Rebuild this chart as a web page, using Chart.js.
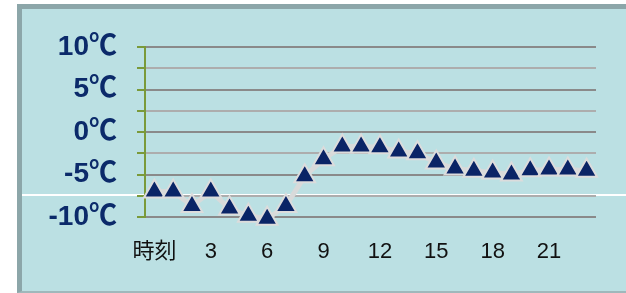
<!DOCTYPE html>
<html>
<head>
<meta charset="utf-8">
<script src="https://cdn.jsdelivr.net/npm/chart.js@4.4.1/dist/chart.umd.min.js"></script>
<style>
  @font-face {
    font-family: 'DegSign';
    src: local('Noto Sans CJK JP Bold'), local('NotoSansCJKjp-Bold'),
         local('Noto Sans CJK SC Bold'), local('NotoSansCJKsc-Bold'),
         local('Noto Sans CJK JP Regular'), local('NotoSansCJKjp-Regular'),
         local('Noto Sans CJK SC Regular'), local('NotoSansCJKsc-Regular'),
         local('Noto Sans CJK JP'), local('Noto Sans CJK SC');
    font-weight: 100 900;
    unicode-range: U+2103;
  }
  html, body { margin: 0; padding: 0; background: #ffffff; }
  #wrap { position: relative; width: 626px; height: 293px; overflow: hidden; }
  #frame { position: absolute; left: 17px; top: 4px; width: 640px; height: 282px;
           background: #bbe0e3; border-left: 5px solid #8ca6a9; border-top: 5px solid #8ca6a9;
           border-bottom: 2px solid #9fb8bb; }
  #wline { position: absolute; left: 22px; top: 194px; width: 604px; height: 2px; background: #ffffff; }
  #c { position: absolute; left: 0; top: 0; }
</style>
</head>
<body>
<div id="wrap">
  <div id="frame"></div>
  <div id="wline"></div>
  <canvas id="c" width="626" height="293"></canvas>
</div>
<script>
const xTickLabels = ['時刻','','','3','','','6','','','9','','','12','','','15','','','18','','','21','',''];
const temperatures = [-7.0,-7.0,-8.7,-7.0,-9.0,-9.85,-10.2,-8.7,-5.2,-3.2,-1.7,-1.7,-1.8,-2.3,-2.5,-3.6,-4.3,-4.55,-4.75,-5.0,-4.5,-4.4,-4.4,-4.55];
const yMin = -10, yMax = 10, yStep = 2.5;
const yLabelUnit = '℃';

function draw() {
  new Chart(document.getElementById('c'), {
    type: 'line',
    data: {
      labels: xTickLabels,
      datasets: [{
        data: temperatures,
        borderColor: '#d8dada',
        borderWidth: 5,
        tension: 0,
        pointStyle: 'triangle',
        pointRadius: 12,
        pointHoverRadius: 12,
        pointBackgroundColor: '#0a2466',
        pointBorderColor: '#dcdcdc',
        pointBorderWidth: 2,
        clip: false
      }]
    },
    options: {
      responsive: false,
      animation: false,
      events: [],
      layout: { padding: { left: 0, right: 30, top: 47, bottom: 0 } },
      plugins: { legend: { display: false }, tooltip: { enabled: false } },
      scales: {
        x: {
          offset: true,
          grid: { display: false, drawTicks: false },
          border: { display: false },
          ticks: {
            autoSkip: false, maxRotation: 0, padding: 22,
            color: '#111111',
            font: { family: "'Liberation Sans', 'Noto Sans CJK JP', sans-serif", size: 22 }
          },
          afterFit: s => { s.height = 76; }
        },
        y: {
          min: yMin, max: yMax,
          afterFit: s => { s.width = 145; },
          grid: {
            color: ctx => (ctx.tick && ctx.tick.value % 5 === 0) ? '#8a8a8a' : '#adadad',
            lineWidth: 2,
            tickColor: '#7a9a3a',
            tickLength: 8
          },
          border: { display: true, color: '#7a9a3a', width: 2 },
          ticks: {
            stepSize: yStep,
            autoSkip: false,
            padding: 20,
            color: '#0b2a6a',
            font: { family: "'DegSign', 'Liberation Sans', 'Noto Sans CJK JP', sans-serif", size: 28, weight: 'bold' },
            callback: v => (v % 5 === 0) ? (v + yLabelUnit) : ''
          }
        }
      }
    }
  });
}
const fontLoad = document.fonts && document.fonts.load ? document.fonts.load("bold 28px DegSign", "℃") : Promise.resolve();
fontLoad.then(draw, draw);
</script>
</body>
</html>
